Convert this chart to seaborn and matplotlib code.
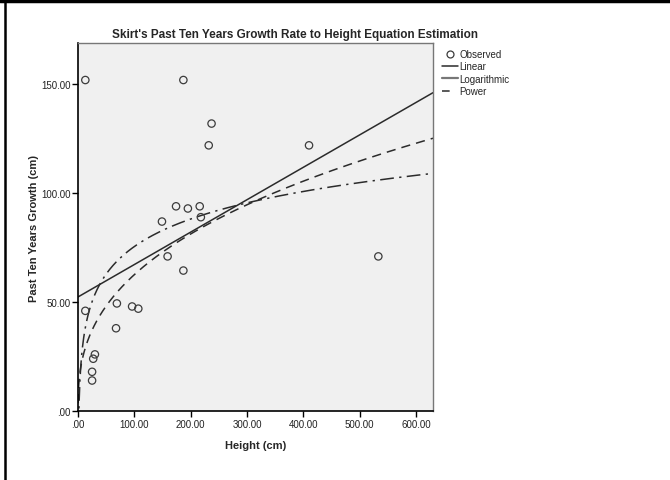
import numpy as np
import pandas as pd
import matplotlib
matplotlib.use("Agg")
import matplotlib.pyplot as plt
import seaborn as sns
from matplotlib.ticker import FuncFormatter
from matplotlib.lines import Line2D

# ---- data ----
height = [13, 187, 237, 232, 174, 195, 216, 149, 218, 159, 187,
          13, 69, 96, 107, 67.5, 30, 27, 25, 25, 410, 533]
growth = [152, 152, 132, 122, 94, 93, 94, 87, 89, 71, 64.5,
          46, 49.4, 48, 47, 38, 26, 24, 18, 14, 122, 71]
x_ticks = [0, 100, 200, 300, 400, 500, 600]
y_ticks = [0, 50, 100, 150]
title = "Skirt's Past Ten Years Growth Rate to Height Equation Estimation"
x_label = "Height (cm)"
y_label = "Past Ten Years Growth (cm)"

sns.set_style("ticks")
plt.rcParams['font.family'] = ['Liberation Sans', 'DejaVu Sans']

df = pd.DataFrame({"Height": height, "Growth": growth})
x = np.array(height, float)
y = np.array(growth, float)

# curve-estimation fits computed from the observed data
b_lin, a_lin = np.polyfit(x, y, 1)
b_log, a_log = np.polyfit(np.log(x), y, 1)
b_pow, ln_a_pow = np.polyfit(np.log(x), np.log(y), 1)

xmax, ymax = 630, 169
grid = np.linspace(0.05, xmax, 1500)
fits = pd.DataFrame({
    "x": grid,
    "Linear": a_lin + b_lin * grid,
    "Logarithmic": a_log + b_log * np.log(grid),
    "Power": np.exp(ln_a_pow) * grid ** b_pow,
})

fig = plt.figure(figsize=(6.7, 4.81), dpi=100)
ax = fig.add_axes([78 / 670, 1 - 412 / 481, (433 - 78) / 670, (412 - 44) / 481])
ax.set_facecolor("#f0f0f0")

lc = "#2b2b2b"
sns.lineplot(data=fits, x="x", y="Linear", ax=ax, color=lc, lw=1.1, label="Linear")
sns.lineplot(data=fits, x="x", y="Logarithmic", ax=ax, color=lc, lw=1.1,
             label="Logarithmic", dashes=False)
ax.lines[-1].set_dashes([9, 3.5, 1.5, 3.5])
sns.lineplot(data=fits, x="x", y="Power", ax=ax, color=lc, lw=1.1, label="Power")
ax.lines[-1].set_dashes([6, 4])
sns.scatterplot(data=df, x="Height", y="Growth", ax=ax, marker="o", s=28,
                facecolor="none", edgecolor="#3c3c3c", linewidth=0.9,
                label="Observed", zorder=5)

ax.set_xlim(0, xmax)
ax.set_ylim(0, ymax)
ax.set_xticks(x_ticks)
ax.set_yticks(y_ticks)
fmt = FuncFormatter(lambda v, p: ("%.2f" % v).lstrip("0") if v < 1 else "%.2f" % v)
ax.xaxis.set_major_formatter(fmt)
ax.yaxis.set_major_formatter(fmt)
ax.tick_params(axis="both", labelsize=7, length=4, width=1, color="black",
               labelcolor="#222222", pad=1.5)
for s in ["left", "bottom"]:
    ax.spines[s].set_color("black")
    ax.spines[s].set_linewidth(1.2)
for s in ["top", "right"]:
    ax.spines[s].set_color("#777777")
    ax.spines[s].set_linewidth(1.0)

ax.set_xlabel(x_label, fontsize=8, fontweight="bold", labelpad=8)
ax.set_ylabel(y_label, fontsize=8, fontweight="bold", labelpad=1)
fig.text(295 / 670, 1 - 35 / 481, title, ha="center", va="center",
         fontsize=8.5, fontweight="bold")

ax.get_legend().remove()
handles = [
    Line2D([], [], marker="o", ls="none", mfc="none", mec="#3c3c3c", ms=5, mew=0.9),
    Line2D([], [], color=lc, lw=1.1),
    Line2D([], [], color="#777777", lw=1.6),
    Line2D([], [], color=lc, lw=1.1, dashes=[5, 20]),
]
fig.legend(handles, ["Observed", "Linear", "Logarithmic", "Power"],
           loc="upper left", bbox_to_anchor=(442 / 670, 1 - 50 / 481),
           frameon=False, fontsize=7, handlelength=1.6, handletextpad=0.2,
           labelspacing=0.25, borderpad=0, borderaxespad=0)

# figure frame (top and left edges)
fig.add_artist(Line2D([0, 1], [1 - 1.5 / 481, 1 - 1.5 / 481],
                      transform=fig.transFigure, color="black", lw=2.5))
fig.add_artist(Line2D([5 / 670, 5 / 670], [0, 1], transform=fig.transFigure,
                      color="black", lw=1.8))

fig.savefig("out.png", dpi=100)
